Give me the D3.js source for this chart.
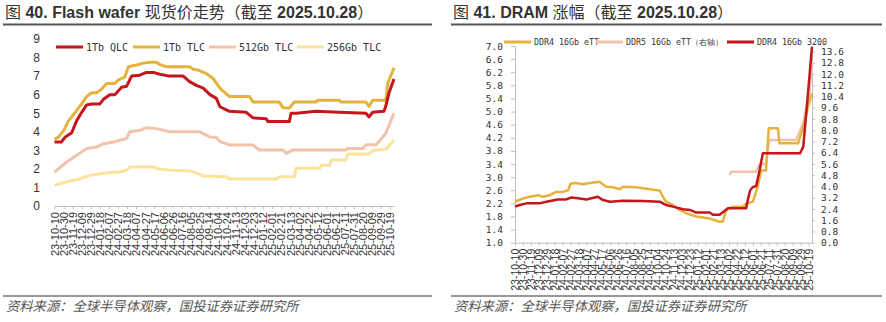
<!DOCTYPE html>
<html>
<head>
<meta charset="utf-8" />
<title>Flash wafer / DRAM</title>
<style>
    body { margin: 0; background: #fff; }
    svg { display: block; }
    .ttl { font-family: "Liberation Sans", Arial, "Noto Sans CJK SC", sans-serif; font-size: 16px; fill: #333; }
    .ttl .b { font-weight: bold; }
    .src { font-family: "Noto Sans CJK SC", sans-serif; font-size: 13.3px; fill: #555; font-style: italic; }
    .xax text { font-family: "Liberation Sans", Arial, sans-serif; fill: #333; }
    .xax path, .xax line, .yax path, .yax line { stroke: #bfbfbf; }
    .leg { font-family: "DejaVu Sans Mono", monospace; fill: #333; }
</style>
</head>
<body>
<div id="chart"></div>
<script src="https://cdnjs.cloudflare.com/ajax/libs/d3/7.8.5/d3.min.js"></script>
<script>
!(function() {
    "use strict"

    var tickLabels = ["23-10-10", "23-10-30", "23-11-19", "23-12-09", "23-12-29", "24-01-18", "24-02-07", "24-02-27",
        "24-03-18", "24-04-07", "24-04-27", "24-05-17", "24-06-06", "24-06-26", "24-07-16", "24-08-05", "24-08-25",
        "24-09-14", "24-10-04", "24-10-24", "24-11-13", "24-12-03", "24-12-23", "25-01-12", "25-02-01", "25-02-21",
        "25-03-13", "25-04-02", "25-04-22", "25-05-12", "25-06-01", "25-06-21", "25-07-11", "25-07-31", "25-08-20",
        "25-09-09", "25-09-29", "25-10-19"]
    var firstDate = "2023-10-10", lastDate = "2025-10-28"

    // 图40 Flash wafer (USD)
    var qlc1Tb = [["2023-10-10",3.45],["2023-10-25",3.45],["2023-11-02",3.7],["2023-11-17",3.95],["2023-11-28",4.6],
        ["2023-12-09",5.05],["2023-12-20",5.45],["2023-12-31",5.5],["2024-01-18",5.5],["2024-01-26",5.75],["2024-02-09",6.0],
        ["2024-02-20",6.0],["2024-03-06",6.4],["2024-03-17",6.45],["2024-03-28",7.0],["2024-04-15",7.05],["2024-04-30",7.2],
        ["2024-05-15",7.2],["2024-05-29",7.1],["2024-06-20",7.0],["2024-07-20",7.0],["2024-08-03",6.7],["2024-08-18",6.5],
        ["2024-09-02",6.35],["2024-09-17",6.0],["2024-10-01",5.8],["2024-10-09",5.35],["2024-10-30",5.1],["2024-12-06",5.05],
        ["2024-12-21",4.75],["2025-01-19",4.7],["2025-01-23",4.55],["2025-03-11",4.55],["2025-03-15",5.0],["2025-03-26",5.0],
        ["2025-05-09",5.1],["2025-06-29",5.05],["2025-08-27",5.0],["2025-09-03",4.8],["2025-09-11",5.05],["2025-10-06",5.1],
        ["2025-10-10",5.4],["2025-10-17",6.1],["2025-10-28",6.85]]
    var tlc1Tb = [["2023-10-10",3.6],["2023-10-18",3.7],["2023-10-30",4.05],["2023-11-10",4.6],["2023-11-17",4.8],
        ["2023-11-28",5.15],["2023-12-09",5.5],["2023-12-20",5.9],["2023-12-31",6.1],["2024-01-11",6.1],["2024-01-22",6.3],
        ["2024-02-02",6.6],["2024-02-20",6.6],["2024-02-28",6.8],["2024-03-13",6.95],["2024-03-21",7.5],["2024-04-08",7.6],
        ["2024-04-23",7.7],["2024-05-07",7.75],["2024-05-22",7.75],["2024-05-29",7.63],["2024-06-13",7.5],["2024-08-03",7.5],
        ["2024-08-11",7.37],["2024-08-25",7.3],["2024-09-09",7.14],["2024-09-24",6.87],["2024-10-09",6.35],["2024-10-30",5.9],
        ["2024-12-13",5.9],["2024-12-21",5.6],["2025-02-17",5.6],["2025-02-25",5.3],["2025-03-11",5.28],["2025-03-22",5.6],
        ["2025-05-09",5.6],["2025-05-13",5.7],["2025-06-29",5.7],["2025-07-03",5.6],["2025-08-27",5.6],["2025-09-03",5.37],
        ["2025-09-11",5.7],["2025-10-10",5.7],["2025-10-14",6.6],["2025-10-28",7.45]]
    var tlc512Gb = [["2023-10-10",1.83],["2023-11-06",2.37],["2023-11-28",2.73],["2023-12-20",3.1],["2024-01-11",3.18],
        ["2024-01-26",3.36],["2024-02-17",3.45],["2024-03-02",3.54],["2024-03-17",3.63],["2024-03-24",4.0],["2024-04-15",4.08],
        ["2024-04-30",4.22],["2024-05-22",4.17],["2024-06-06",4.08],["2024-06-20",4.0],["2024-08-25",4.0],["2024-09-02",3.9],
        ["2024-09-17",3.72],["2024-10-01",3.69],["2024-10-09",3.47],["2024-10-30",3.29],["2024-12-21",3.29],["2025-01-04",3.02],
        ["2025-02-25",3.02],["2025-03-04",2.84],["2025-03-19",3.02],["2025-07-14",3.02],["2025-07-18",3.1],["2025-08-20",3.1],
        ["2025-08-27",3.3],["2025-09-18",3.3],["2025-09-25",3.47],["2025-10-10",3.93],["2025-10-28",5.0]]
    var tlc256Gb = [["2023-10-10",1.12],["2023-11-06",1.3],["2023-12-05",1.47],["2023-12-27",1.65],["2024-01-18",1.74],
        ["2024-02-09",1.8],["2024-03-02",1.83],["2024-03-17",1.92],["2024-03-24",2.1],["2024-05-15",2.1],["2024-05-29",1.98],
        ["2024-06-28",1.92],["2024-08-03",1.89],["2024-08-18",1.78],["2024-09-02",1.62],["2024-10-23",1.58],["2024-10-30",1.45],
        ["2025-02-10",1.45],["2025-02-17",1.58],["2025-03-22",1.58],["2025-03-26",2.03],["2025-05-17",2.03],["2025-05-21",2.2],
        ["2025-06-08",2.2],["2025-06-12",2.48],["2025-07-14",2.48],["2025-07-18",2.8],["2025-09-03",2.8],["2025-09-11",3.0],
        ["2025-10-10",3.05],["2025-10-28",3.55]]

    // 图41 DRAM (DDR4 left axis, DDR5 right axis)
    var ddr4Ett = [["2023-10-10",2.25],["2023-10-30",2.35],["2023-11-16",2.4],["2023-12-07",2.45],["2023-12-19",2.4],
        ["2024-01-05",2.45],["2024-01-22",2.55],["2024-02-08",2.55],["2024-02-21",2.6],["2024-02-27",2.8],["2024-03-12",2.82],
        ["2024-03-29",2.78],["2024-04-15",2.82],["2024-05-10",2.86],["2024-05-27",2.71],["2024-06-13",2.69],["2024-06-30",2.63],
        ["2024-07-08",2.71],["2024-08-10",2.69],["2024-09-14",2.63],["2024-10-09",2.59],["2024-10-17",2.4],["2024-10-25",2.25],
        ["2024-11-11",2.15],["2024-11-28",2.0],["2024-12-15",1.9],["2025-01-09",1.8],["2025-02-12",1.74],["2025-03-09",1.64],
        ["2025-03-17",1.65],["2025-03-26",2.0],["2025-04-11",2.1],["2025-05-07",2.1],["2025-05-15",2.2],["2025-06-01",2.25],
        ["2025-06-13",2.7],["2025-06-22",3.2],["2025-07-04",3.2],["2025-07-11",4.49],["2025-08-03",4.49],["2025-08-07",4.03],
        ["2025-09-23",4.03],["2025-10-06",4.54],["2025-10-19",5.2],["2025-10-28",5.56]]
    var ddr4_3200 = [["2023-10-10",2.1],["2023-10-22",2.15],["2023-11-08",2.2],["2023-12-11",2.2],["2023-12-28",2.25],
        ["2024-01-26",2.32],["2024-02-16",2.32],["2024-02-29",2.38],["2024-03-21",2.35],["2024-04-07",2.32],["2024-05-06",2.4],
        ["2024-05-19",2.3],["2024-06-05",2.25],["2024-07-08",2.28],["2024-08-28",2.27],["2024-10-09",2.25],["2024-10-17",2.2],
        ["2024-10-25",2.15],["2024-11-11",2.1],["2024-12-07",2.02],["2024-12-24",2.0],["2025-01-09",1.92],["2025-02-12",1.92],
        ["2025-02-20",1.85],["2025-03-09",1.85],["2025-03-30",2.05],["2025-05-15",2.05],["2025-05-19",2.3],["2025-05-25",2.6],
        ["2025-06-01",2.7],["2025-06-09",2.72],["2025-06-18",3.22],["2025-06-26",3.73],["2025-09-28",3.73],["2025-10-06",3.93],
        ["2025-10-15",5.15],["2025-10-28",6.98]]
    var ddr5Ett = [["2025-04-03",4.82],["2025-04-07",5.05],["2025-06-09",5.05],["2025-06-18",5.6],["2025-07-04",5.6],
        ["2025-07-11",7.07],["2025-07-14",7.31],["2025-09-18",7.31],["2025-10-06",8.5],["2025-10-22",10.87],["2025-10-28",12.77]]

    var leftTicks = d3.range(0, 10)
    var dramLeftTicks = d3.range(1, 7.01, 0.4)
    var dramRightTicks = d3.range(0, 13.61, 0.8)

    var red = "#c5161d", gold = "#e5b23d", pink = "#f2c2ab", lightYellow = "#fce39a"

    var parseDay = d3.timeParse("%Y-%m-%d")
    var parseTick = d3.timeParse("%y-%m-%d")
    var tickFmt = d3.timeFormat("%y-%m-%d")
    var tickDates = tickLabels.map(parseTick)

    var svg = d3.select("#chart").append("svg")
        .attr("width", 886).attr("height", 322)
    svg.append("rect").attr("width", 886).attr("height", 322).attr("fill", "#fff")

    function header(x0, x1, parts) {
        var t = svg.append("text").attr("class", "ttl").attr("x", x0 + 2).attr("y", 18)
        parts.forEach(function(p) {
            t.append("tspan").attr("class", p[1] ? "b" : null).text(p[0])
        })
        svg.append("line").attr("x1", x0).attr("x2", x1).attr("y1", 24.5).attr("y2", 24.5)
            .attr("stroke", "#555").attr("stroke-width", 2)
        svg.append("line").attr("x1", x0).attr("x2", x1).attr("y1", 296).attr("y2", 296)
            .attr("stroke", "#333").attr("stroke-width", 1.2)
        svg.append("text").attr("class", "src").attr("x", x0 + 3).attr("y", 311)
            .text("资料来源：全球半导体观察，国投证券证券研究所")
    }

    function xAxis(g, x, fontSize) {
        g.attr("class", "xax")
            .call(d3.axisBottom(x).tickValues(tickDates).tickFormat(tickFmt).tickSize(3).tickSizeOuter(0))
        g.selectAll("text")
            .style("font-size", fontSize + "px")
            .attr("transform", "rotate(-90)")
            .attr("text-anchor", "end")
            .attr("x", -6).attr("y", 0).attr("dy", "0.35em")
    }

    function legend(items, y, fontSize) {
        items.forEach(function(it) {
            svg.append("line").attr("x1", it.x).attr("x2", it.x + 27).attr("y1", y).attr("y2", y)
                .attr("stroke", it.color).attr("stroke-width", 3)
            svg.append("text").attr("class", "leg").attr("x", it.x + 30).attr("y", y).attr("dy", "0.35em")
                .style("font-size", fontSize + "px").text(it.name)
        })
    }

    function drawLine(data, x, y, color, width) {
        var line = d3.line()
            .x(function(d) { return x(parseDay(d[0])) })
            .y(function(d) { return y(d[1]) })
        svg.append("path").datum(data).attr("d", line)
            .attr("fill", "none").attr("stroke", color).attr("stroke-width", width)
            .attr("stroke-linejoin", "round")
    }

    // ---------- left: Flash wafer ----------
    header(3, 432, [["图 ", false], ["40. Flash wafer ", true], ["现货价走势（截至 ", false], ["2025.10.28", true], ["）", false]])

    var x1 = d3.scaleTime().domain([parseDay(firstDate), parseDay(lastDate)]).range([54.5, 394])
    var y1 = d3.scaleLinear().domain([0, 9]).range([206, 39])

    svg.append("g").attr("transform", "translate(0,206)").call(function(g) { xAxis(g, x1, 11) })
    svg.append("g").attr("class", "yax").attr("transform", "translate(54,0)")
        .call(d3.axisLeft(y1).tickValues(leftTicks).tickSize(0).tickPadding(14))
        .call(function(g) { g.select(".domain").remove() })
        .selectAll("text").style("font-family", "Liberation Sans, Arial, sans-serif")
        .style("font-size", "12px").attr("fill", "#333")

    drawLine(tlc256Gb, x1, y1, lightYellow, 3)
    drawLine(tlc512Gb, x1, y1, pink, 3)
    drawLine(tlc1Tb, x1, y1, gold, 3)
    drawLine(qlc1Tb, x1, y1, red, 3)

    legend([
        { name: "1Tb QLC", color: red, x: 56 },
        { name: "1Tb TLC", color: gold, x: 133 },
        { name: "512Gb TLC", color: pink, x: 209 },
        { name: "256Gb TLC", color: lightYellow, x: 297 }
    ], 47, 10)

    // ---------- right: DRAM ----------
    header(451, 882, [["图 ", false], ["41. DRAM ", true], ["涨幅（截至 ", false], ["2025.10.28", true], ["）", false]])

    var x2 = d3.scaleTime().domain([parseDay(firstDate), parseDay(lastDate)]).range([515, 812])
    var y2 = d3.scaleLinear().domain([1, 7]).range([242.7, 46])
    var y2r = d3.scaleLinear().domain([0, 14]).range([242.7, 46])

    svg.append("g").attr("transform", "translate(0,242.7)").call(function(g) { xAxis(g, x2, 10.5) })
    svg.append("g").attr("class", "yax").attr("transform", "translate(515,0)")
        .call(d3.axisLeft(y2).tickValues(dramLeftTicks).tickFormat(d3.format(".1f")).tickSize(4).tickSizeOuter(0).tickPadding(8))
        .selectAll("text").style("font-family", "DejaVu Sans Mono, monospace")
        .style("font-size", "9.5px").attr("fill", "#333")
    svg.append("g").attr("class", "yax").attr("transform", "translate(812,0)")
        .call(d3.axisRight(y2r).tickValues(dramRightTicks).tickFormat(d3.format(".1f")).tickSize(3).tickSizeOuter(0).tickPadding(6))
        .selectAll("text").style("font-family", "DejaVu Sans Mono, monospace")
        .style("font-size", "9.5px").attr("fill", "#333")

    drawLine(ddr5Ett, x2, y2r, pink, 2.5)
    drawLine(ddr4Ett, x2, y2, gold, 2.5)
    drawLine(ddr4_3200, x2, y2, red, 2.5)

    legend([
        { name: "DDR4 16Gb eTT", color: gold, x: 504 },
        { name: "DDR5 16Gb eTT（右轴）", color: pink, x: 596 },
        { name: "DDR4 16Gb 3200", color: red, x: 727 }
    ], 42, 8.3)
}());
</script>
</body>
</html>
